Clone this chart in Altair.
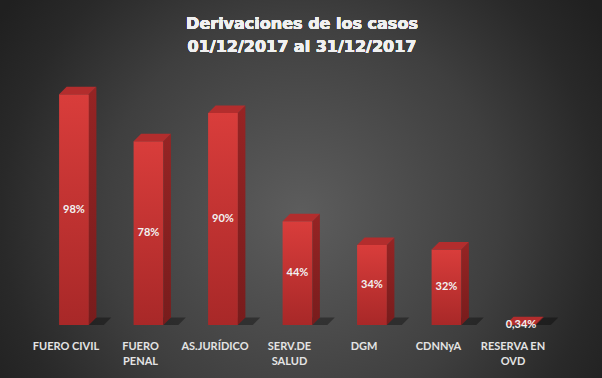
import altair as alt
import pandas as pd

categories = ["FUERO CIVIL", "FUERO\nPENAL", "AS.JURÍDICO", "SERV.DE\nSALUD", "DGM", "CDNNyA", "RESERVA EN\nOVD"]
values = [98, 78, 90, 44, 34, 32, 0.34]
value_labels = ["98%", "78%", "90%", "44%", "34%", "32%", "0,34%"]
title_lines = ["Derivaciones de los casos", "01/12/2017 al 31/12/2017"]

W, H = 521.5, 245
YMAX = 104
HALF = 0.2
DX = 7.5 / 74.5
DY = 7.5 * YMAX / H
FONT = "Lato"

idx = list(range(len(categories)))
base = pd.DataFrame({"idx": idx, "cat": categories, "value": values, "label": value_labels})
base["x0"] = base["idx"] - HALF
base["x1"] = base["idx"] + HALF
base["mid"] = base["value"] / 2

side_rows, top_rows, shadow_rows = [], [], []
for _, r in base.iterrows():
    side_rows.append({"idx": r.idx, "x": r.x1, "y": r.value, "y2": 0})
    side_rows.append({"idx": r.idx, "x": r.x1 + DX, "y": r.value + DY, "y2": DY})
    top_rows.append({"idx": r.idx, "y": r.value, "x": r.x0, "x2": r.x1})
    top_rows.append({"idx": r.idx, "y": r.value + DY, "x": r.x0 + DX, "x2": r.x1 + DX})
    shadow_rows.append({"idx": r.idx, "y": 0, "x": r.x0, "x2": r.x1 + 0.2})
    shadow_rows.append({"idx": r.idx, "y": DY, "x": r.x0 + DX, "x2": r.x1 + DX + 0.2})
side = pd.DataFrame(side_rows)
top = pd.DataFrame(top_rows)
shadow = pd.DataFrame(shadow_rows)

xs = alt.Scale(domain=[-0.5, 6.5], nice=False, zero=False)
ys = alt.Scale(domain=[0, YMAX], nice=False, zero=False)

bg_grad = alt.RadialGradient(
    gradient="radial", x1=0.5, y1=0.5, r1=0, x2=0.5, y2=0.5, r2=0.5,
    stops=[alt.GradientStop(offset=0, color="#5d5d5d"),
           alt.GradientStop(offset=0.55, color="#3f3f3f"),
           alt.GradientStop(offset=0.83, color="#292929"),
           alt.GradientStop(offset=1, color="#202020")])
background = alt.Chart(pd.DataFrame({"a": [0]})).mark_rect(fill=bg_grad).encode(
    x=alt.value(-95.75), x2=alt.value(624.25), y=alt.value(-225), y2=alt.value(495))

shadow_layer = alt.Chart(shadow).mark_area(orient="horizontal", color="#000000", opacity=0.35).encode(
    y=alt.Y("y:Q", scale=ys, axis=None), x=alt.X("x:Q", scale=xs, axis=None), x2="x2:Q", detail="idx:N")

front_grad = alt.LinearGradient(
    gradient="linear", x1=0, y1=0, x2=0, y2=1,
    stops=[alt.GradientStop(offset=0, color="#d93d3b"), alt.GradientStop(offset=1, color="#a82828")])
front = alt.Chart(base).mark_rect(fill=front_grad).encode(
    x=alt.X("x0:Q", scale=xs, axis=None), x2="x1:Q",
    y=alt.Y("value:Q", scale=ys, axis=None), y2=alt.datum(0))

side_grad = alt.LinearGradient(
    gradient="linear", x1=0, y1=0, x2=0, y2=1,
    stops=[alt.GradientStop(offset=0, color="#962424"), alt.GradientStop(offset=1, color="#781c1c")])
side_layer = alt.Chart(side).mark_area(fill=side_grad, orient="vertical").encode(
    x=alt.X("x:Q", scale=xs, axis=None), y=alt.Y("y:Q", scale=ys, axis=None), y2="y2:Q", detail="idx:N")

top_layer = alt.Chart(top).mark_area(color="#b32d2d", orient="horizontal").encode(
    y=alt.Y("y:Q", scale=ys, axis=None), x=alt.X("x:Q", scale=xs, axis=None), x2="x2:Q", detail="idx:N")

bar_text = alt.Chart(base).mark_text(font=FONT, fontSize=11, fontWeight="bold", color="#f2f2f2", baseline="middle").encode(
    x=alt.X("idx:Q", scale=xs, axis=None), y=alt.Y("mid:Q", scale=ys, axis=None), text="label:N")

cat_text = alt.Chart(base).mark_text(font=FONT, fontSize=11, fontWeight="bold", color="#e4e4e4",
                                     baseline="top", lineBreak="\n", lineHeight=15.4, dx=-8).encode(
    x=alt.X("idx:Q", scale=xs, axis=None), y=alt.value(H + 16), text="cat:N")

title_layers = []
for i, line in enumerate(title_lines):
    yv = -51 + i * 22.5
    title_layers.append(alt.Chart(base).mark_text(text=line, font="DejaVu Sans", fontSize=16, fontWeight="bold",
                                                  color="#f0f0f0", baseline="alphabetic")
                        .encode(x=alt.value(265.25), y=alt.value(yv)))

chart = alt.layer(background, shadow_layer, front, side_layer, top_layer, bar_text, cat_text, *title_layers).properties(
    width=W, height=H,
    padding={"left": 36.75, "top": 80, "right": 43.75, "bottom": 53},
    autosize="none",
    background="#262626",
).configure_view(stroke=None)

chart.save("out.html", embed_options={"renderer": "svg", "actions": False})
